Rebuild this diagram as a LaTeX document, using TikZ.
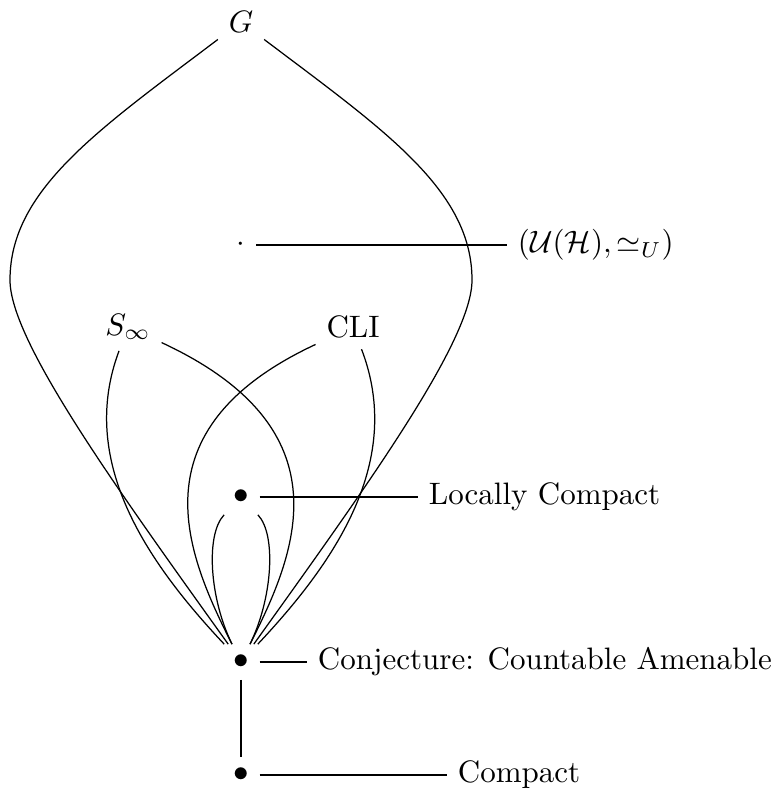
\documentclass[tikz,border=0pt]{standalone}
\usepackage{amsmath,amssymb}
\begin{document}
\begin{tikzpicture}[x=0.3226pt,y=-0.3226pt,
  lbl/.style={anchor=west},
  conn/.style={line width=0.4pt}]
\useasboundingbox (0,0) rectangle (772,791);
% nodes
\node (g) at (241,22) {$G$};
\node (dot) at (241,245) {$\cdot$};
\node[lbl] (uh) at (507,245) {$(\mathcal{U}(\mathcal{H}),\simeq_U)$};
\node (sinf) at (128,327) {$S_\infty$};
\node (cli) at (353,327) {CLI};
\node (lc) at (241,497) {$\bullet$};
\node[lbl] (lclab) at (418,497) {Locally Compact};
\node (conj) at (241,662) {$\bullet$};
\node[lbl] (conjlab) at (307,662) {Conjecture: Countable Amenable};
\node (cpt) at (241,775) {$\bullet$};
\node[lbl] (cptlab) at (447,775) {Compact};
% label lines
\draw[conn] (dot) -- (uh);
\draw[conn] (lc) -- (lclab);
\draw[conn] (conj) -- (conjlab);
\draw[conn] (cpt) -- (cptlab);
\draw[conn] (conj) -- (cpt);
% G curves
\draw[conn] (g) .. controls (98,130) and (10,190) .. (10,280)
  .. controls (10,340) and (112,482) .. (conj);
\draw[conn] (g) .. controls (384,130) and (472,190) .. (472,280)
  .. controls (472,340) and (370,482) .. (conj);
% S_infty curves
\draw[conn] (sinf) .. controls (78,460) and (145,560) .. (conj);
\draw[conn] (sinf) .. controls (350,430) and (295,555) .. (conj);
% CLI curves
\draw[conn] (cli) .. controls (132,430) and (187,555) .. (conj);
\draw[conn] (cli) .. controls (404,460) and (337,560) .. (conj);
% locally compact curves
\draw[conn] (lc) .. controls (205,535) and (210,600) .. (conj);
\draw[conn] (lc) .. controls (277,535) and (272,600) .. (conj);
\end{tikzpicture}
\end{document}
